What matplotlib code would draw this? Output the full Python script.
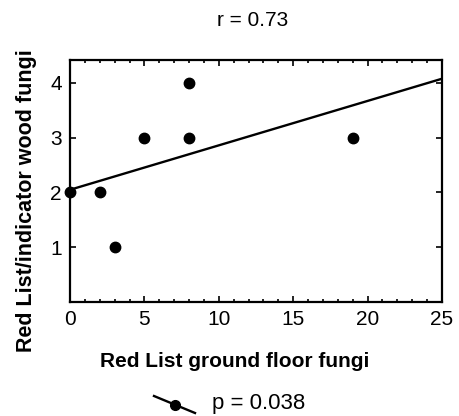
import numpy as np
import matplotlib
matplotlib.use("Agg")
import matplotlib.pyplot as plt
from matplotlib.lines import Line2D
from matplotlib.ticker import MultipleLocator

# data
ground_floor = [0, 2, 3, 5, 8, 8, 19]
wood_fungi = [2, 2, 1, 3, 3, 4, 3]
x_ticks = [0, 5, 10, 15, 20, 25]
y_ticks = [1, 2, 3, 4]
r_text = "r = 0.73"
p_text = "p = 0.038"

plt.rcParams['font.family'] = ['Liberation Sans', 'DejaVu Sans']

W, H = 459, 416
fig = plt.figure(figsize=(W / 100, H / 100), dpi=100)
ax = fig.add_axes([70 / W, 1 - 302 / H, 372 / W, 242 / H])

# least squares line over the full x range
slope, icpt = np.polyfit(ground_floor, wood_fungi, 1)
xl = np.array([0, 25])
ax.plot(xl, icpt + slope * xl, color='black', lw=1.7, zorder=2)
ax.plot(ground_floor, wood_fungi, 'o', color='black', ms=7.5, zorder=3, clip_on=False)

ax.set_xlim(0, 25)
ax.set_ylim(0, 4.42)
ax.set_xticks(x_ticks)
ax.set_yticks(y_ticks)
ax.xaxis.set_minor_locator(MultipleLocator(1))
ax.tick_params(which='both', direction='in', top=True, right=True,
               labelsize=15, width=1.2)
ax.tick_params(which='major', length=4, pad=6)
ax.tick_params(which='minor', length=2.5)
for s in ax.spines.values():
    s.set_linewidth(1.6)

ax.set_xlabel("Red List ground floor fungi", fontsize=15, fontweight='bold', va='center')
ax.xaxis.set_label_coords(0.4435, -0.244)
ax.set_ylabel("Red List/indicator wood fungi", fontsize=15.5, fontweight='bold', va='center')
ax.yaxis.set_label_coords(-0.116, 0.417)
fig.text(253 / W, 1 - 21 / H, r_text, fontsize=15, ha='center', va='center')

# legend key below the axes: sloped line with a dot
fig.add_artist(Line2D([154 / W, 195 / W], [1 - 396 / H, 1 - 413 / H],
                      color='black', lw=1.7, transform=fig.transFigure))
fig.add_artist(Line2D([175 / W], [1 - 405 / H], marker='o', ms=7,
                      color='black', transform=fig.transFigure))
fig.text(212 / W, 1 - 403 / H, p_text, fontsize=16, va='center', ha='left')

fig.savefig("out.png", dpi=100)
